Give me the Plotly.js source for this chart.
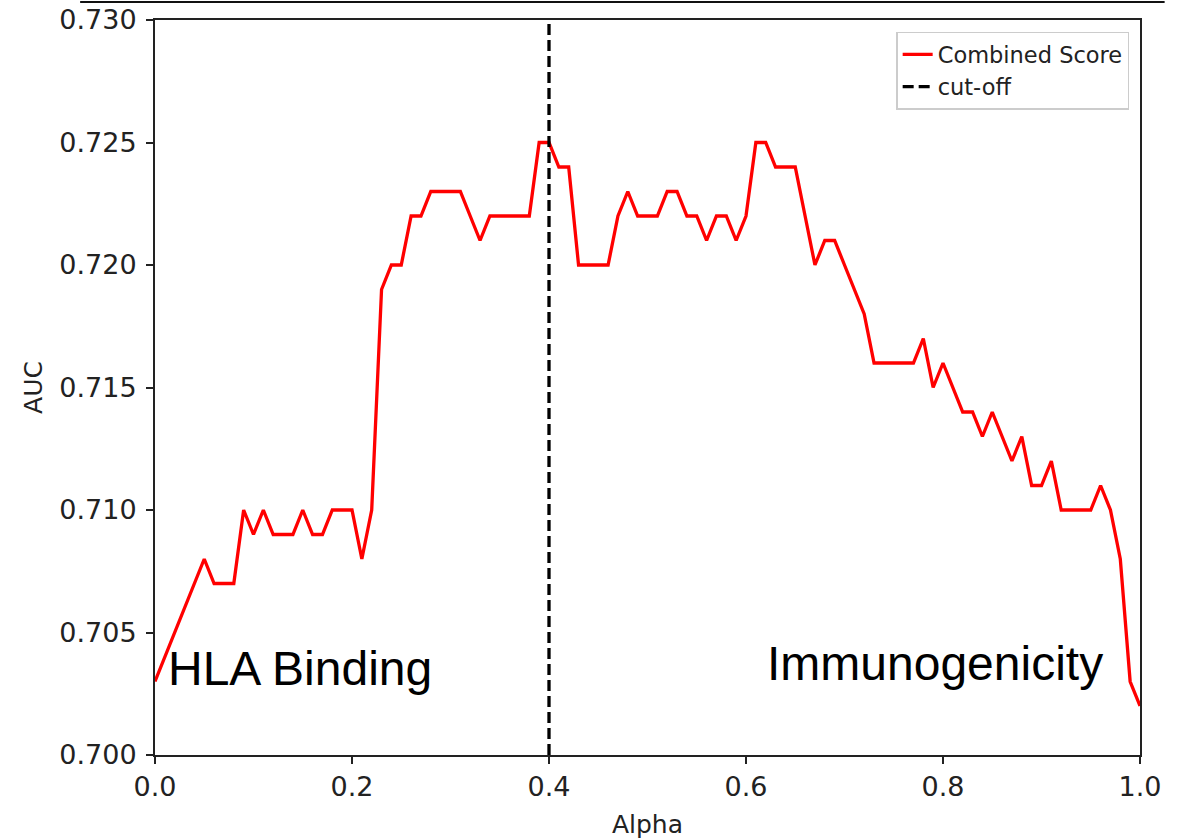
<!DOCTYPE html>
<html>
<head>
<meta charset="utf-8">
<script src="https://cdn.plot.ly/plotly-3.0.1.min.js"></script>
<style>html,body{margin:0;padding:0;background:#fff;}#chart{width:1178px;height:839px;}</style>
</head>
<body>
<div id="chart"></div>
<script>
const alpha = [0.00,0.01,0.02,0.03,0.04,0.05,0.06,0.07,0.08,0.09,
  0.10,0.11,0.12,0.13,0.14,0.15,0.16,0.17,0.18,0.19,
  0.20,0.21,0.22,0.23,0.24,0.25,0.26,0.27,0.28,0.29,
  0.30,0.31,0.32,0.33,0.34,0.35,0.36,0.37,0.38,0.39,
  0.40,0.41,0.42,0.43,0.44,0.45,0.46,0.47,0.48,0.49,
  0.50,0.51,0.52,0.53,0.54,0.55,0.56,0.57,0.58,0.59,
  0.60,0.61,0.62,0.63,0.64,0.65,0.66,0.67,0.68,0.69,
  0.70,0.71,0.72,0.73,0.74,0.75,0.76,0.77,0.78,0.79,
  0.80,0.81,0.82,0.83,0.84,0.85,0.86,0.87,0.88,0.89,
  0.90,0.91,0.92,0.93,0.94,0.95,0.96,0.97,0.98,0.99,1.00];
const combinedScore = [0.703,0.704,0.705,0.706,0.707,0.708,0.707,0.707,0.707,0.710,
  0.709,0.710,0.709,0.709,0.709,0.710,0.709,0.709,0.710,0.710,
  0.710,0.708,0.710,0.719,0.720,0.720,0.722,0.722,0.723,0.723,
  0.723,0.723,0.722,0.721,0.722,0.722,0.722,0.722,0.722,0.725,
  0.725,0.724,0.724,0.720,0.720,0.720,0.720,0.722,0.723,0.722,
  0.722,0.722,0.723,0.723,0.722,0.722,0.721,0.722,0.722,0.721,
  0.722,0.725,0.725,0.724,0.724,0.724,0.722,0.720,0.721,0.721,
  0.720,0.719,0.718,0.716,0.716,0.716,0.716,0.716,0.717,0.715,
  0.716,0.715,0.714,0.714,0.713,0.714,0.713,0.712,0.713,0.711,
  0.711,0.712,0.710,0.710,0.710,0.710,0.711,0.710,0.708,0.703,0.702];
const cutoffX = [0.4, 0.4];
const cutoffY = [0.700, 0.730];
const xTicks = [0.0, 0.2, 0.4, 0.6, 0.8, 1.0];
const xTickLabels = ["0.0", "0.2", "0.4", "0.6", "0.8", "1.0"];
const yTicks = [0.700, 0.705, 0.710, 0.715, 0.720, 0.725, 0.730];
const yTickLabels = ["0.700", "0.705", "0.710", "0.715", "0.720", "0.725", "0.730"];

const font = "DejaVu Sans, sans-serif";
const traces = [
  {x: alpha, y: combinedScore, type: "scatter", mode: "lines", name: "Combined Score",
   line: {color: "#ff0000", width: 3.3}},
  {x: cutoffX, y: cutoffY, type: "scatter", mode: "lines", name: "cut-off",
   line: {color: "#000000", width: 3.3, dash: "11px,5px"}}
];
const layout = {
  width: 1178, height: 839,
  margin: {l: 155, r: 38, t: 20, b: 84},
  paper_bgcolor: "#fff", plot_bgcolor: "#fff",
  showlegend: true,
  legend: {x: 0.989, y: 0.984, xanchor: "right", yanchor: "top",
    bgcolor: "#fff", bordercolor: "#cccccc", borderwidth: 1.5,
    font: {family: font, size: 22.5, color: "#222"}},
  xaxis: {range: [0, 1], tickvals: xTicks, ticktext: xTickLabels,
    showgrid: false, zeroline: false, showline: true, mirror: true,
    linecolor: "#222", linewidth: 2, ticks: "outside", ticklen: 7, tickwidth: 2, tickcolor: "#222",
    tickfont: {family: font, size: 27, color: "#222"},
    title: {text: "Alpha", font: {family: font, size: 25, color: "#222"}, standoff: 14}},
  yaxis: {range: [0.700, 0.730], tickvals: yTicks, ticktext: yTickLabels,
    showgrid: false, zeroline: false, showline: true, mirror: true,
    linecolor: "#222", linewidth: 2, ticks: "outside", ticklen: 7, tickwidth: 2, tickcolor: "#222",
    ticklabelstandoff: 4,
    tickfont: {family: font, size: 27, color: "#222"},
    title: {text: "AUC", font: {family: font, size: 25, color: "#222"}, standoff: 10}},
  shapes: [
    {type: "line", xref: "paper", yref: "paper", x0: -0.076, x1: 1.025, y0: 1.0245, y1: 1.0245,
     line: {color: "#111", width: 2}}
  ],
  annotations: [
    {xref: "paper", yref: "paper", x: 0.011, y: 0.118, xanchor: "left", yanchor: "middle",
     text: "HLA Binding", showarrow: false,
     font: {family: "Liberation Sans, Arial, sans-serif", size: 48, color: "#000"}},
    {xref: "paper", yref: "paper", x: 0.9645, y: 0.124, xanchor: "right", yanchor: "middle",
     text: "Immunogenicity", showarrow: false,
     font: {family: "Liberation Sans, Arial, sans-serif", size: 48, color: "#000"}}
  ]
};
Plotly.newPlot("chart", traces, layout, {displayModeBar: false, staticPlot: true});
</script>
</body>
</html>
